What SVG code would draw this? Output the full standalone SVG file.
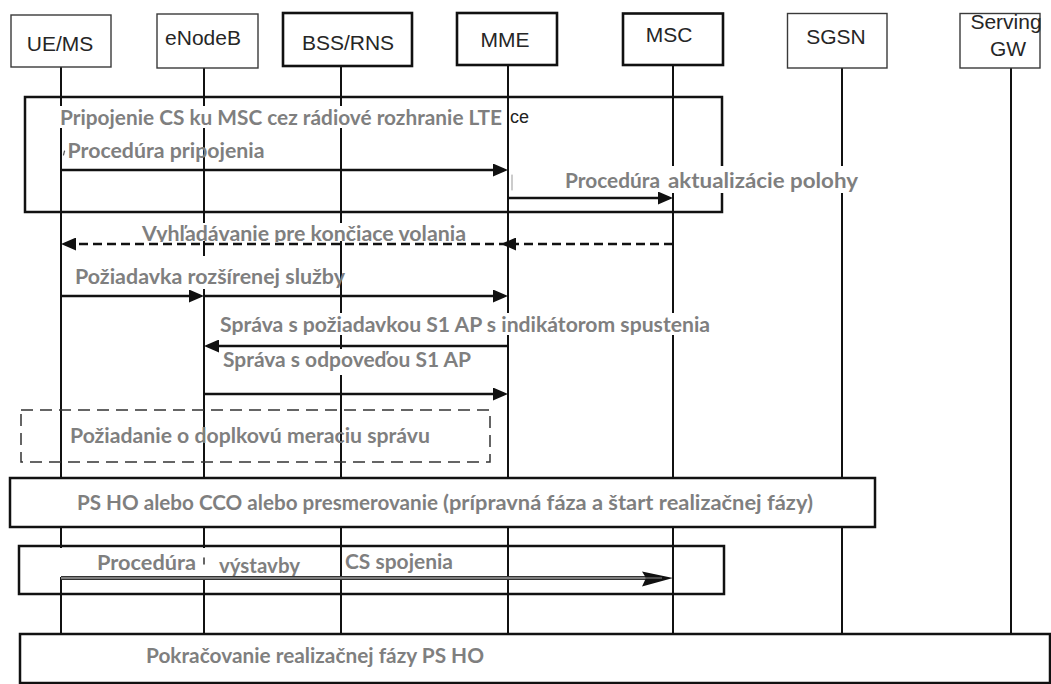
<svg xmlns="http://www.w3.org/2000/svg" width="1051" height="684" viewBox="0 0 1051 684">
<defs>
<style>
.hdr{fill:#fff;stroke:#3a3a3a;stroke-width:1.4}
.hdrb{fill:#fff;stroke:#111;stroke-width:2.6}
.ht{font-family:"Liberation Sans",Arial,sans-serif;font-size:21px;fill:#262626;text-anchor:middle}
.life{stroke:#111;stroke-width:2;fill:none}
.frame{fill:none;stroke:#111;stroke-width:2.5}
.framew{fill:#fff;stroke:#111;stroke-width:2.5}
.dframe{fill:none;stroke:#333;stroke-width:1.5;stroke-dasharray:12 7}
.lbl{font-family:Lato,"Open Sans",sans-serif;font-weight:700;font-size:20px;fill:#7f7f7f}
.patch{fill:#fff;stroke:none}
.msg{stroke:#111;stroke-width:2.5;fill:none;marker-end:url(#ah)}
.dmsg{stroke:#111;stroke-width:2.5;fill:none;stroke-dasharray:9 5;marker-end:url(#ah)}
</style>
<marker id="ah" markerUnits="userSpaceOnUse" markerWidth="15" markerHeight="13" refX="11" refY="6.5" orient="auto">
<path d="M0,0 L15,6.5 L0,13 Z" fill="#111"/>
</marker>
<clipPath id="c4"><rect x="0" y="200" width="1051" height="42"/></clipPath>
<clipPath id="c6"><rect x="0" y="300" width="1051" height="35"/></clipPath>
<clipPath id="c11"><rect x="0" y="540" width="1051" height="36.5"/></clipPath>
</defs>
<rect width="1051" height="684" fill="#fff"/>

<g id="lifelines">
<line class="life" x1="61" y1="67" x2="61" y2="634"/>
<line class="life" x1="204" y1="68" x2="204" y2="634"/>
<line class="life" x1="341" y1="66" x2="341" y2="634"/>
<line class="life" x1="508" y1="65" x2="508" y2="634"/>
<line class="life" x1="673" y1="55" x2="673" y2="634"/>
<line class="life" x1="842" y1="68" x2="842" y2="634"/>
<line class="life" x1="1011" y1="68" x2="1011" y2="634" stroke="#444"/>
</g>

<g id="node-ue"><rect class="hdr" x="11" y="15" width="100" height="52"/><text class="ht" x="60" y="51">UE/MS</text></g>
<g id="node-enodeb"><rect class="hdr" x="157" y="14" width="101" height="54" stroke-width="1.2"/><text class="ht" x="203" y="45">eNodeB</text></g>
<g id="node-bss"><rect class="hdrb" x="283" y="13" width="129" height="53"/><text class="ht" x="348" y="50">BSS/RNS</text></g>
<g id="node-mme"><rect class="hdrb" x="457" y="13" width="100" height="52"/><text class="ht" x="505" y="47">MME</text></g>
<g id="node-msc"><rect class="hdrb" x="623" y="13.5" width="100" height="51.5" stroke-width="2.2"/><text class="ht" x="669" y="42">MSC</text></g>
<g id="node-sgsn"><rect class="hdr" x="787.5" y="13.5" width="99.5" height="54.5" stroke-width="1.2"/><text class="ht" x="836" y="44">SGSN</text></g>
<g id="node-sgw"><rect class="hdr" x="960" y="13.5" width="80" height="54.5" stroke-width="1.2"/><text class="ht" x="1006" y="29" font-size="19">Serving</text><text class="ht" x="1008" y="56" font-size="19">GW</text></g>

<g id="frame-attach">
<rect class="frame" x="25" y="97" width="697" height="115"/>
</g>
<g id="frame-ps-ho"><rect class="framew" x="10" y="478" width="865" height="49"/></g>
<g id="frame-cs-setup"><rect class="frame" x="19" y="546" width="705" height="48"/></g>
<g id="frame-continue"><rect class="framew" x="20" y="634" width="1030" height="49" stroke-width="2.2"/></g>
<g id="frame-measurement"><rect class="dframe" x="21" y="410" width="469" height="52"/></g>

<g id="label-patches">
<rect class="patch" x="58" y="106" width="446" height="22"/>
<rect class="patch" x="560" y="166" width="302" height="27"/>
<rect class="patch" x="140" y="223" width="330" height="18"/>
<rect class="patch" x="72" y="256" width="266" height="33"/>
<rect class="patch" x="218" y="313" width="494" height="22"/>
<rect class="patch" x="220" y="349" width="254" height="26"/>
<rect class="patch" x="58" y="548" width="278" height="29"/>
</g>

<g id="labels">
<text class="lbl" x="60" y="125" textLength="442" lengthAdjust="spacingAndGlyphs">Pripojenie CS ku MSC cez rádiové rozhranie LTE</text>
<text x="510" y="123" font-family="Liberation Sans,Arial,sans-serif" font-size="18" fill="#222">ce</text>
<text class="lbl" x="67.5" y="157.5" textLength="197" lengthAdjust="spacingAndGlyphs">Procedúra pripojenia</text>
<text class="lbl" x="565" y="188" textLength="95" lengthAdjust="spacingAndGlyphs">Procedúra</text>
<text class="lbl" x="668" y="188" textLength="190" lengthAdjust="spacingAndGlyphs">aktualizácie polohy</text>
<text class="lbl" x="142" y="240.5" textLength="324" lengthAdjust="spacingAndGlyphs" clip-path="url(#c4)">Vyhľadávanie pre končiace volania</text>
<text class="lbl" x="75" y="284" textLength="270" lengthAdjust="spacingAndGlyphs">Požiadavka rozšírenej služby</text>
<text class="lbl" x="220" y="332" textLength="490" lengthAdjust="spacingAndGlyphs" clip-path="url(#c6)">Správa s požiadavkou S1 AP s indikátorom spustenia</text>
<text class="lbl" x="223" y="367" textLength="248" lengthAdjust="spacingAndGlyphs">Správa s odpoveďou S1 AP</text>
<text class="lbl" x="70" y="443" textLength="360" lengthAdjust="spacingAndGlyphs">Požiadanie o doplkovú meraciu správu</text>
<text class="lbl" x="77" y="510" textLength="361" lengthAdjust="spacingAndGlyphs">PS HO alebo CCO alebo presmerovanie</text>
<text class="lbl" x="443" y="510" textLength="370" lengthAdjust="spacingAndGlyphs">(prípravná fáza a štart realizačnej fázy)</text>
<text class="lbl" x="97" y="570" textLength="99" lengthAdjust="spacingAndGlyphs">Procedúra</text>
<text class="lbl" x="219" y="573" textLength="81" lengthAdjust="spacingAndGlyphs" clip-path="url(#c11)">výstavby</text>
<text class="lbl" x="345" y="569" textLength="108" lengthAdjust="spacingAndGlyphs">CS spojenia</text>
<text class="lbl" x="146" y="663" textLength="338" lengthAdjust="spacingAndGlyphs">Pokračovanie realizačnej fázy PS HO</text>
</g>

<g id="marks" stroke-linecap="round">
<line x1="64.5" y1="151" x2="63.5" y2="155" stroke="#555" stroke-width="1.2"/>
<line x1="512" y1="175" x2="512" y2="190" stroke="#999" stroke-width="1"/>
<line x1="204" y1="558" x2="204" y2="564" stroke="#333" stroke-width="1.5"/>
</g>

<g id="connectors">
<path class="msg" d="M61,170 H504"/>
<path class="msg" d="M508,198 H669"/>
<path class="dmsg" d="M673,244 H505"/>
<path class="dmsg" d="M508,244 H65"/>
<path class="msg" d="M61,296 H200"/>
<path class="msg" d="M204,296 H504"/>
<path class="msg" d="M508,346 H208"/>
<path class="msg" d="M204,394 H504"/>
<g id="cs-setup-arrow">
<line x1="61" y1="578" x2="662" y2="578" stroke="#333" stroke-width="4.2"/>
<line x1="61" y1="578" x2="662" y2="578" stroke="#9a9a9a" stroke-width="1.6"/>
<path d="M642,571.5 L673,578 L642,586.5 L646,578 Z" fill="#111"/>
<line x1="646" y1="578" x2="662" y2="578" stroke="#777" stroke-width="1.2"/>
</g>
</g>
</svg>
